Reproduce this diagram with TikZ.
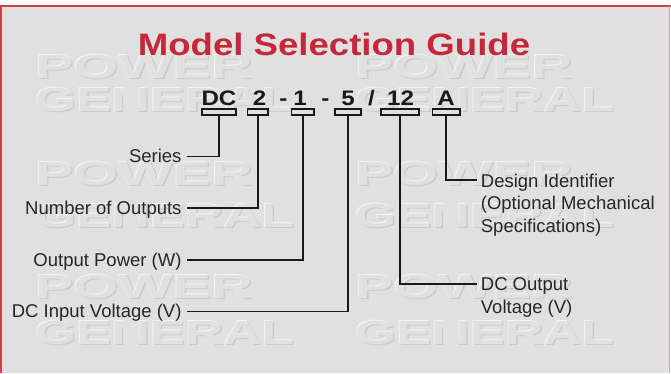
\documentclass[tikz,border=0pt]{standalone}
\usepackage{fontspec}
\setmainfont{Liberation Sans}
\definecolor{bg}{HTML}{E0E0E0}
\definecolor{titlered}{HTML}{C4283A}
\definecolor{framered}{HTML}{D3404C}
\definecolor{framepink}{HTML}{E2A4AC}
\definecolor{wmshadow}{HTML}{CBCBCB}
\definecolor{wmlight}{HTML}{F4F4F4}
\newcommand{\embossword}[2]{%
  \rlap{\raisebox{-1.3pt}{\hspace*{1.3pt}\textcolor{wmshadow}{\scalebox{#1}[1]{#2}}}}%
  \rlap{\raisebox{0.9pt}{\hspace*{-0.9pt}\textcolor{wmlight}{\scalebox{#1}[1]{#2}}}}%
  \textcolor{bg}{\scalebox{#1}[1]{#2}}}
\begin{document}
\begin{tikzpicture}[x=1pt,y=-1pt,
  lbl/.style={inner sep=0pt, font=\fontsize{18.5}{22.5}\selectfont, text=black!85},
  codechar/.style={inner sep=0pt, anchor=base, font=\fontsize{21}{21}\selectfont\bfseries, text=black!90},
  codebox/.style={draw=black!90, line width=1.6pt, fill=bg, inner sep=0pt, minimum height=6.5pt},
  conn/.style={draw=black!90, line width=1.6pt},
  wm/.style={inner sep=0pt, anchor=base west, font=\fontsize{33.5}{33.5}\selectfont\bfseries}
]
\useasboundingbox (0,0) rectangle (671,373);
% background and frame
\fill[white] (0,0) rectangle (671,373);
\fill[bg] (1,5.5) rectangle (670,373);
\draw[framered, line width=2pt] (0,5.5) -- (671,5.5);
\draw[framered, line width=2pt] (1,5.5) -- (1,373);
\draw[framepink, line width=1pt] (669.5,5.5) -- (669.5,373);

% watermark (embossed)
\foreach \wx in {35,355}{
  \foreach \py/\gy in {78/111, 185/227, 298/344}{
    \node[wm] at (\wx,\py) {\embossword{1.72}{POWER}};
    \node[wm] at (\wx,\gy) {\embossword{1.58}{GENERAL}};
  }
}

% title
\node[anchor=base, inner sep=0pt, font=\fontsize{31}{31}\selectfont\bfseries, text=titlered] (title) at (334,55.5) {\scalebox{1.18}[1]{Model Selection Guide}};

% model code
\node[codechar] (tDC) at (219,105.5) {\scalebox{1.15}[1]{DC}};
\node[codechar] (t2) at (259.5,105.5) {\scalebox{1.15}[1]{2}};
\node[codechar] (d1) at (283.5,105.5) {\scalebox{1.15}[1]{-}};
\node[codechar] (t1) at (300,105.5) {\scalebox{1.15}[1]{1}};
\node[codechar] (d2) at (325.5,105.5) {\scalebox{1.15}[1]{-}};
\node[codechar] (t5) at (348,105.5) {\scalebox{1.15}[1]{5}};
\node[codechar] (sl) at (371.5,105.5) {\scalebox{1.15}[1]{/}};
\node[codechar] (t12) at (400.5,105.5) {\scalebox{1.15}[1]{12}};
\node[codechar] (tA) at (446,105.5) {\scalebox{1.15}[1]{A}};

% boxes
\node[codebox, minimum width=34pt] (bDC) at (218.9,112) {};
\node[codebox, minimum width=20.7pt] (b2) at (257.9,112) {};
\node[codebox, minimum width=22.7pt] (b1) at (302.9,112) {};
\node[codebox, minimum width=26pt] (b5) at (347.9,112) {};
\node[codebox, minimum width=38pt] (b12) at (400.2,112) {};
\node[codebox, minimum width=27.7pt] (bA) at (446.2,112) {};

% left labels
\node[lbl, anchor=base east] (lSer) at (181.7,162.5) {Series};
\node[lbl, anchor=base east] (lNum) at (181.7,214) {Number of Outputs};
\node[lbl, anchor=base east] (lPow) at (181.7,266) {Output Power (W)};
\node[lbl, anchor=base east] (lVin) at (181.7,317.5) {DC Input Voltage (V)};

% right labels
\node[lbl, anchor=north west, align=left] (lDes) at (480.7,173.4) {Design Identifier\\(Optional Mechanical\\Specifications)};
\node[lbl, anchor=north west, align=left] (lVout) at (480.7,277.8) {DC Output\\Voltage (V)};

% connector end points
\coordinate (cSer) at ([xshift=5pt,yshift=6pt]lSer.base east);
\coordinate (cNum) at ([xshift=5pt,yshift=6pt]lNum.base east);
\coordinate (cPow) at ([xshift=5pt,yshift=6pt]lPow.base east);
\coordinate (cVin) at ([xshift=5pt,yshift=6pt]lVin.base east);
\coordinate (cDes) at ([xshift=-4pt,yshift=-6.8pt]lDes.north west);
\coordinate (cVout) at ([xshift=-4pt,yshift=-6.2pt]lVout.north west);

% connectors
\draw[conn] (bDC.south) |- (cSer);
\draw[conn] (b2.south) |- (cNum);
\draw[conn] (b1.south) |- (cPow);
\draw[conn] (b5.south) |- (cVin);
\draw[conn] (bA.south) |- (cDes);
\draw[conn] (b12.south) |- (cVout);
\end{tikzpicture}
\end{document}
